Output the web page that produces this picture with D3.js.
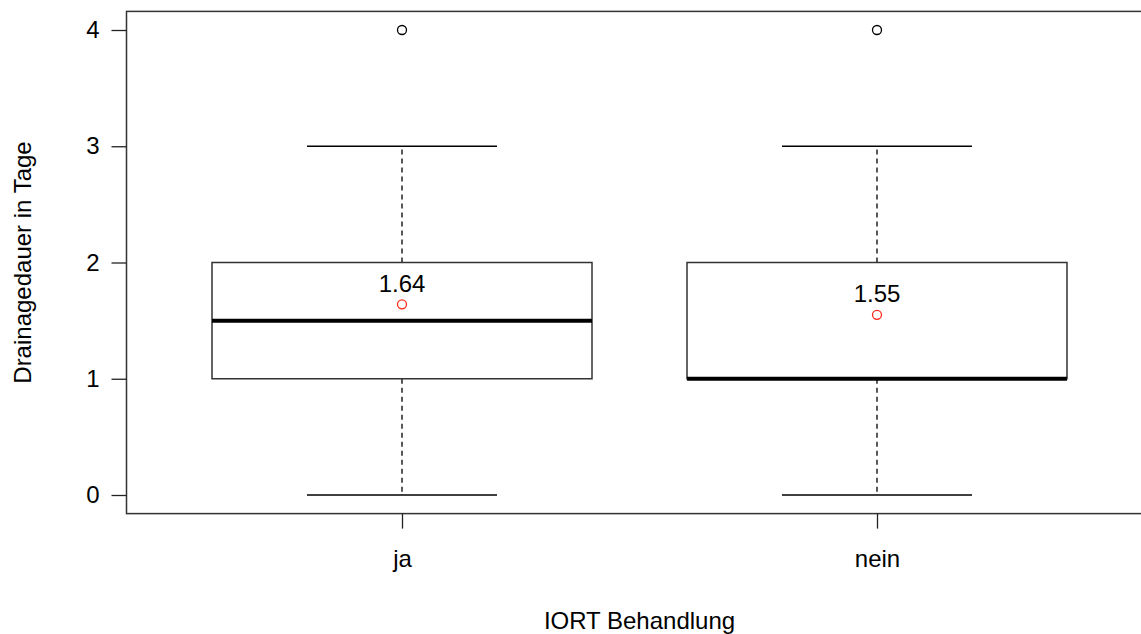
<!DOCTYPE html>
<html><head><meta charset="utf-8">
<script src="https://cdn.jsdelivr.net/npm/d3@7"></script>
<style>body{margin:0;background:#fff}svg{display:block}text{font-family:"Liberation Sans",Arial,sans-serif;fill:#000}</style>
</head><body>
<svg id="c" width="1141" height="634"></svg>
<script>
const groups = ["ja", "nein"];
const q1 = [1, 1];
const medians = [1.5, 1];
const q3 = [2, 2];
const whiskerLow = [0, 0];
const whiskerHigh = [3, 3];
const outliers = [[4], [4]];
const means = [1.64, 1.55];
const yTicks = [0, 1, 2, 3, 4];
const xLabel = "IORT Behandlung";
const yLabel = "Drainagedauer in Tage";

const svg = d3.select("#c");
const fs = 24;
const x = d3.scaleLinear().domain([0.42, 2.58]).range([126.5, 1152.5]);
const y = d3.scaleLinear().domain([-0.16, 4.16]).range([513.6, 11.4]);
const lineCol = "#000";

// plot frame
svg.append("rect").attr("x", x(0.42)).attr("y", y(4.16))
  .attr("width", x(2.58) - x(0.42)).attr("height", y(-0.16) - y(4.16))
  .attr("fill", "none").attr("stroke", "#333").attr("stroke-width", 1.5);

// y axis
const yAxis = d3.axisLeft(y).tickValues(yTicks).tickSize(15).tickPadding(12).tickFormat(d3.format("d"));
const ya = svg.append("g").attr("transform", `translate(${x(0.42)},0)`).call(yAxis);
ya.select(".domain").remove();
ya.selectAll("line").attr("stroke", "#222").attr("stroke-width", 1.3);
ya.selectAll("text").attr("font-size", fs).attr("font-family", "Liberation Sans, Arial, sans-serif").attr("fill", "#000");

// x axis
const xAxis = d3.axisBottom(x).tickValues([1, 2]).tickSize(15).tickPadding(21).tickFormat((d) => groups[d - 1]);
const xa = svg.append("g").attr("transform", `translate(0,${y(-0.16)})`).call(xAxis);
xa.select(".domain").remove();
xa.selectAll("line").attr("stroke", "#222").attr("stroke-width", 1.3);
xa.selectAll("text").attr("font-size", fs).attr("font-family", "Liberation Sans, Arial, sans-serif").attr("fill", "#000");

// boxes
const bw = 0.4, cw = 0.2;
groups.forEach((g, i) => {
  const c = i + 1;
  const G = svg.append("g");
  G.append("line").attr("x1", x(c)).attr("x2", x(c)).attr("y1", y(q3[i])).attr("y2", y(whiskerHigh[i]))
    .attr("stroke", lineCol).attr("stroke-width", 1.3).attr("stroke-dasharray", "5,4");
  G.append("line").attr("x1", x(c)).attr("x2", x(c)).attr("y1", y(q1[i])).attr("y2", y(whiskerLow[i]))
    .attr("stroke", lineCol).attr("stroke-width", 1.3).attr("stroke-dasharray", "5,4");
  [whiskerHigh[i], whiskerLow[i]].forEach(v => {
    G.append("line").attr("x1", x(c - cw)).attr("x2", x(c + cw)).attr("y1", y(v)).attr("y2", y(v))
      .attr("stroke", lineCol).attr("stroke-width", 1.3);
  });
  G.append("rect").attr("x", x(c - bw)).attr("y", y(q3[i]))
    .attr("width", x(c + bw) - x(c - bw)).attr("height", y(q1[i]) - y(q3[i]))
    .attr("fill", "#fff").attr("stroke", "#333").attr("stroke-width", 1.5);
  G.append("line").attr("x1", x(c - bw)).attr("x2", x(c + bw)).attr("y1", y(medians[i])).attr("y2", y(medians[i]))
    .attr("stroke", "#000").attr("stroke-width", 4);
  outliers[i].forEach(v => {
    G.append("circle").attr("cx", x(c)).attr("cy", y(v)).attr("r", 4.5)
      .attr("fill", "none").attr("stroke", "#000").attr("stroke-width", 1.3);
  });
  G.append("circle").attr("cx", x(c)).attr("cy", y(means[i])).attr("r", 4.5)
    .attr("fill", "none").attr("stroke", "#ff2a1a").attr("stroke-width", 1.3);
  G.append("text").attr("x", x(c)).attr("y", y(means[i]) - 21).attr("dy", "0.35em")
    .attr("text-anchor", "middle").attr("font-size", fs).text(means[i].toFixed(2));
});

svg.append("text").attr("x", x(1.5)).attr("y", 621).attr("dy", "0.35em").attr("text-anchor", "middle")
  .attr("font-size", fs).text(xLabel);
svg.append("text").attr("transform", `translate(23,${y(2)}) rotate(-90)`).attr("dy", "0.35em")
  .attr("text-anchor", "middle").attr("font-size", fs).text(yLabel);
</script>
</body></html>
